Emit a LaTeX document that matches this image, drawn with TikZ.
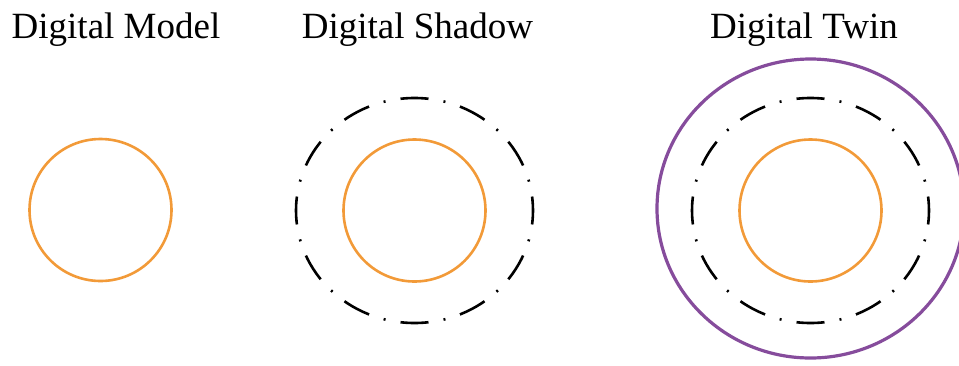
\documentclass[tikz,border=0pt]{standalone}
\usepackage{fontspec}
\setmainfont{Liberation Serif}
\usetikzlibrary{shapes.geometric}
\definecolor{corange}{HTML}{F29A38}
\definecolor{cpurple}{HTML}{864C9C}
\tikzset{
  every picture/.style={x=1pt, y=-1pt},
  title/.style={font=\fontsize{37}{42}\selectfont, anchor=base, inner sep=0pt},
  core/.style={circle, draw=corange, line width=2.6pt, minimum size=142pt, inner sep=0pt},
  flow/.style={ellipse, draw=black, line width=2.6pt, minimum width=237pt, minimum height=225pt, inner sep=0pt,
    dash pattern=on 28pt off 15.25pt on 2pt off 15.24pt, dash phase=14pt},
  twin/.style={ellipse, draw=cpurple, line width=3.2pt, minimum width=307pt, minimum height=299pt, inner sep=0pt},
}

\begin{document}
\begin{tikzpicture}
  \useasboundingbox (0,0) rectangle (959,365);
  % digital model
  \node[title] (tm) at (116,38) {Digital Model};
  \node[core] (m0) at (100.5,210) {};
  % digital shadow
  \node[title] (ts) at (417.5,38) {Digital Shadow};
  \node[flow] (s1) at (414.5,210.5) {};
  \node[core] (s0) at (414.5,210.5) {};
  % digital twin
  \node[title] (tt) at (804,38) {Digital Twin};
  \node[twin] (t2) at (810.5,208.5) {};
  \node[flow] (t1) at (810.5,210.5) {};
  \node[core] (t0) at (810.5,210.5) {};
\end{tikzpicture}
\end{document}
